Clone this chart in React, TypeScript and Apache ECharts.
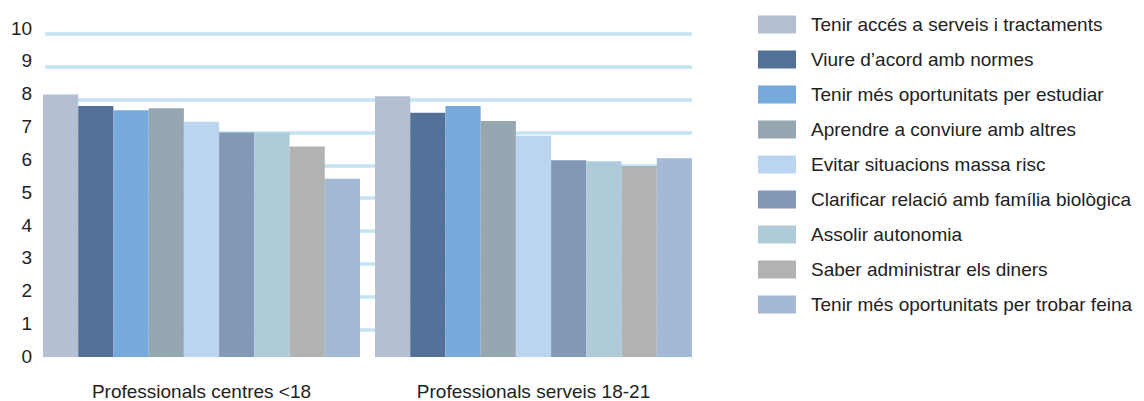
import React, { useEffect, useRef } from "react";
import * as echarts from "echarts";

const categories = ["Professionals centres <18", "Professionals serveis 18-21"];
const seriesNames = [
  "Tenir accés a serveis i tractaments",
  "Viure d’acord amb normes",
  "Tenir més oportunitats per estudiar",
  "Aprendre a conviure amb altres",
  "Evitar situacions massa risc",
  "Clarificar relació amb família biològica",
  "Assolir autonomia",
  "Saber administrar els diners",
  "Tenir més oportunitats per trobar feina",
];
const centresValues = [8.13, 7.77, 7.64, 7.7, 7.28, 6.95, 6.95, 6.52, 5.52];
const serveisValues = [8.07, 7.56, 7.77, 7.31, 6.85, 6.09, 6.06, 5.91, 6.15];
const colors = [
  "#b4bfd4",
  "#537096",
  "#76aadc",
  "#97a7b1",
  "#bbd5f0",
  "#8398b6",
  "#afcbda",
  "#b1b2b2",
  "#a3b9d5",
];
const yTicks = [0, 10, 1];

const FONT = "'Liberation Sans', Arial, sans-serif";
const FS = 19;

export default function App() {
  const ref = useRef<HTMLDivElement>(null);
  useEffect(() => {
    if (!ref.current) return;
    const chart = echarts.init(ref.current, null, { renderer: "svg" });
    const series: any[] = seriesNames.map((name, i) => ({
      name,
      type: "bar",
      xAxisIndex: 0,
      yAxisIndex: 0,
      barGap: "0%",
      barCategoryGap: "4.52%",
      itemStyle: { color: colors[i] },
      data: [centresValues[i], serveisValues[i]],
    }));
    series.push({
      type: "scatter",
      xAxisIndex: 1,
      yAxisIndex: 1,
      data: [],
      silent: true,
    });
    chart.setOption({
      animation: false,
      color: colors,
      grid: [
        { left: 27.5, right: 444.5, top: 26, bottom: 38.6 },
        { left: 35, right: 452, top: 26, bottom: 38.6 },
      ],
      legend: {
        orient: "vertical",
        left: 750,
        top: 7,
        padding: 0,
        itemWidth: 38,
        itemHeight: 18,
        itemGap: 16,
        icon: "rect",
        data: seriesNames,
        textStyle: {
          fontFamily: FONT,
          fontSize: FS,
          color: "#222",
          padding: [0, 0, 0, 10],
        },
      },
      xAxis: [
        {
          type: "category",
          gridIndex: 0,
          data: categories,
          axisLine: { show: false },
          axisTick: { show: false },
          axisLabel: {
            fontFamily: FONT,
            fontSize: FS,
            color: "#222",
            margin: 25,
          },
        },
        {
          type: "value",
          gridIndex: 1,
          min: 0,
          max: 1,
          show: false,
        },
      ],
      yAxis: [
        {
          type: "value",
          gridIndex: 0,
          min: yTicks[0],
          max: yTicks[1],
          interval: yTicks[2],
          show: false,
          splitLine: { show: false },
        },
        {
          type: "value",
          gridIndex: 1,
          min: yTicks[0],
          max: yTicks[1],
          interval: yTicks[2],
          axisLine: { show: false },
          axisTick: { show: false },
          axisLabel: {
            fontFamily: FONT,
            fontSize: FS,
            color: "#222",
            margin: 13,
            verticalAlign: "bottom",
            lineHeight: 12,
          },
          splitLine: {
            show: true,
            showMinLine: false,
            lineStyle: { color: "#c4e3f3", width: 3.5 },
          },
        },
      ],
      series,
    });
    return () => chart.dispose();
  }, []);
  return <div ref={ref} style={{ width: 1136, height: 393 }} />;
}
